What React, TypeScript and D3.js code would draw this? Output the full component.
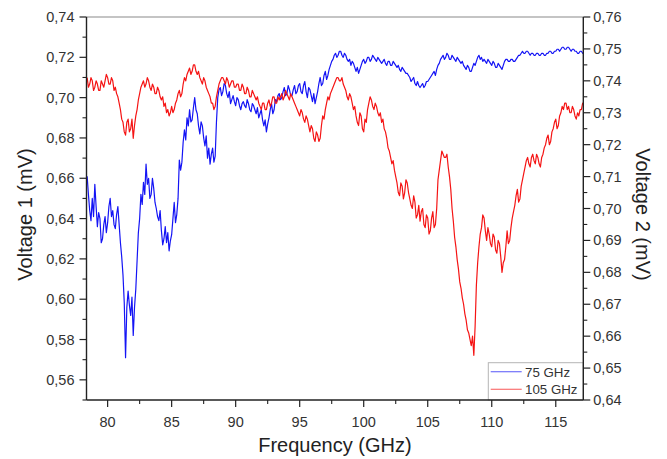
import React from "react";
import * as d3 from "d3";

// Frequency grid (GHz): first sample and spacing of the sweep
const FREQ_START = 78.4;
const FREQ_STEP = 0.1;

// Voltage 1 (mV), "75 GHz" trace, left axis — 10 samples per row (1 GHz)
const V1_75GHZ = [
  0.661, 0.652, 0.644, 0.639, 0.650, 0.641, 0.657, 0.646, 0.636, 0.643,
  0.640, 0.628, 0.630, 0.637, 0.641, 0.633, 0.638, 0.646, 0.650, 0.641,
  0.644, 0.637, 0.635, 0.642, 0.646, 0.637, 0.628, 0.621, 0.612, 0.598,
  0.571, 0.596, 0.604, 0.597, 0.592, 0.601, 0.582, 0.596, 0.605, 0.619,
  0.633, 0.640, 0.652, 0.647, 0.658, 0.652, 0.667, 0.657, 0.660, 0.650,
  0.652, 0.660, 0.655, 0.648, 0.645, 0.641, 0.639, 0.644, 0.634, 0.627,
  0.630, 0.636, 0.628, 0.633, 0.624, 0.629, 0.632, 0.640, 0.648, 0.638,
  0.642, 0.650, 0.669, 0.664, 0.668, 0.678, 0.684, 0.679, 0.690, 0.686,
  0.694, 0.688, 0.689, 0.695, 0.700, 0.694, 0.692, 0.686, 0.682, 0.688,
  0.686, 0.680, 0.676, 0.681, 0.670, 0.675, 0.667, 0.672, 0.675, 0.668,
  0.671, 0.688, 0.700, 0.704, 0.705, 0.701, 0.703, 0.707, 0.706, 0.702,
  0.700, 0.703, 0.697, 0.699, 0.701, 0.698, 0.696, 0.700, 0.699, 0.696,
  0.694, 0.697, 0.698, 0.696, 0.695, 0.699, 0.697, 0.694, 0.693, 0.697,
  0.696, 0.694, 0.692, 0.695, 0.690, 0.692, 0.694, 0.689, 0.686, 0.689,
  0.683, 0.687, 0.690, 0.694, 0.697, 0.692, 0.694, 0.699, 0.698, 0.701,
  0.702, 0.699, 0.700, 0.703, 0.705, 0.701, 0.702, 0.706, 0.704, 0.701,
  0.701, 0.704, 0.706, 0.702, 0.703, 0.706, 0.707, 0.703, 0.702, 0.706,
  0.708, 0.703, 0.700, 0.705, 0.704, 0.701, 0.698, 0.702, 0.697, 0.700,
  0.703, 0.707, 0.710, 0.706, 0.707, 0.711, 0.713, 0.709, 0.711, 0.714,
  0.716, 0.718, 0.719, 0.721, 0.722, 0.720, 0.721, 0.723, 0.723, 0.721,
  0.720, 0.722, 0.721, 0.719, 0.718, 0.719, 0.716, 0.718, 0.717, 0.715,
  0.713, 0.715, 0.712, 0.714, 0.716, 0.718, 0.719, 0.717, 0.718, 0.720,
  0.720, 0.718, 0.719, 0.721, 0.720, 0.719, 0.718, 0.720, 0.719, 0.718,
  0.717, 0.718, 0.719, 0.717, 0.716, 0.718, 0.718, 0.716, 0.716, 0.718,
  0.717, 0.716, 0.715, 0.716, 0.714, 0.713, 0.715, 0.714, 0.713, 0.712,
  0.712, 0.711, 0.710, 0.708, 0.709, 0.710, 0.707, 0.706, 0.708, 0.706,
  0.705, 0.706, 0.707, 0.705, 0.706, 0.708, 0.708, 0.709, 0.710, 0.711,
  0.712, 0.713, 0.711, 0.714, 0.716, 0.717, 0.719, 0.720, 0.721, 0.719,
  0.720, 0.722, 0.721, 0.719, 0.719, 0.721, 0.720, 0.719, 0.718, 0.720,
  0.719, 0.718, 0.717, 0.718, 0.716, 0.715, 0.714, 0.716, 0.715, 0.713,
  0.713, 0.715, 0.717, 0.716, 0.718, 0.720, 0.721, 0.719, 0.720, 0.718,
  0.719, 0.718, 0.717, 0.719, 0.718, 0.717, 0.716, 0.718, 0.717, 0.715,
  0.715, 0.717, 0.716, 0.715, 0.714, 0.716, 0.718, 0.719, 0.719, 0.718,
  0.718, 0.719, 0.719, 0.718, 0.718, 0.719, 0.720, 0.721, 0.721, 0.722,
  0.723, 0.722, 0.722, 0.723, 0.723, 0.722, 0.721, 0.722, 0.722, 0.721,
  0.721, 0.722, 0.722, 0.721, 0.721, 0.722, 0.722, 0.721, 0.721, 0.722,
  0.722, 0.723, 0.723, 0.722, 0.722, 0.723, 0.723, 0.724, 0.724, 0.723,
  0.724, 0.725, 0.725, 0.724, 0.724, 0.725, 0.725, 0.724, 0.723, 0.724,
  0.724, 0.723, 0.723, 0.722, 0.722, 0.723, 0.723, 0.722, 0.722, 0.723,
];

// Voltage 2 (mV), "105 GHz" trace, right axis
const V2_105GHZ = [
  0.741, 0.738, 0.739, 0.741, 0.740, 0.737, 0.738, 0.740, 0.739, 0.737,
  0.737, 0.740, 0.739, 0.738, 0.740, 0.742, 0.741, 0.739, 0.739, 0.741,
  0.740, 0.737, 0.738, 0.736, 0.735, 0.733, 0.731, 0.728, 0.727, 0.724,
  0.723, 0.727, 0.728, 0.724, 0.725, 0.728, 0.722, 0.726, 0.729, 0.731,
  0.734, 0.736, 0.738, 0.739, 0.740, 0.738, 0.739, 0.741, 0.740, 0.738,
  0.737, 0.739, 0.738, 0.736, 0.736, 0.738, 0.737, 0.735, 0.734, 0.735,
  0.732, 0.733, 0.730, 0.731, 0.729, 0.730, 0.732, 0.730, 0.731, 0.733,
  0.734, 0.736, 0.737, 0.735, 0.736, 0.739, 0.741, 0.740, 0.742, 0.743,
  0.744, 0.742, 0.743, 0.745, 0.745, 0.743, 0.742, 0.743, 0.741, 0.740,
  0.739, 0.741, 0.740, 0.738, 0.737, 0.736, 0.735, 0.733, 0.733, 0.731,
  0.732, 0.735, 0.737, 0.739, 0.740, 0.741, 0.741, 0.740, 0.739, 0.741,
  0.740, 0.738, 0.739, 0.740, 0.740, 0.738, 0.738, 0.739, 0.739, 0.737,
  0.737, 0.739, 0.738, 0.736, 0.736, 0.738, 0.737, 0.735, 0.735, 0.737,
  0.736, 0.735, 0.734, 0.735, 0.733, 0.732, 0.731, 0.733, 0.733, 0.731,
  0.731, 0.733, 0.734, 0.732, 0.733, 0.735, 0.735, 0.733, 0.733, 0.735,
  0.734, 0.735, 0.736, 0.734, 0.735, 0.737, 0.736, 0.735, 0.734, 0.736,
  0.735, 0.734, 0.733, 0.732, 0.731, 0.730, 0.729, 0.731, 0.730, 0.728,
  0.727, 0.729, 0.728, 0.726, 0.724, 0.726, 0.725, 0.722, 0.721, 0.724,
  0.723, 0.721, 0.722, 0.726, 0.729, 0.728, 0.731, 0.733, 0.735, 0.734,
  0.736, 0.737, 0.738, 0.739, 0.740, 0.741, 0.741, 0.740, 0.740, 0.741,
  0.739, 0.738, 0.737, 0.735, 0.734, 0.736, 0.735, 0.733, 0.731, 0.732,
  0.729, 0.727, 0.726, 0.730, 0.729, 0.725, 0.724, 0.728, 0.727, 0.731,
  0.733, 0.735, 0.734, 0.732, 0.731, 0.733, 0.732, 0.730, 0.729, 0.730,
  0.727, 0.728, 0.725, 0.724, 0.722, 0.719, 0.718, 0.716, 0.714, 0.715,
  0.712, 0.710, 0.708, 0.705, 0.704, 0.708, 0.707, 0.703, 0.705, 0.709,
  0.708, 0.705, 0.703, 0.701, 0.700, 0.704, 0.702, 0.697, 0.698, 0.701,
  0.696, 0.699, 0.700, 0.695, 0.694, 0.698, 0.697, 0.692, 0.693, 0.697,
  0.699, 0.694, 0.695, 0.700, 0.709, 0.712, 0.715, 0.718, 0.717, 0.716,
  0.716, 0.717, 0.713, 0.710, 0.706, 0.700, 0.696, 0.691, 0.688, 0.684,
  0.681, 0.677, 0.675, 0.672, 0.670, 0.667, 0.665, 0.662, 0.661, 0.659,
  0.657, 0.660, 0.654, 0.663, 0.676, 0.683, 0.688, 0.692, 0.694, 0.698,
  0.697, 0.693, 0.690, 0.694, 0.692, 0.689, 0.688, 0.692, 0.691, 0.687,
  0.686, 0.690, 0.689, 0.685, 0.680, 0.683, 0.684, 0.688, 0.693, 0.689,
  0.690, 0.694, 0.697, 0.699, 0.701, 0.704, 0.706, 0.702, 0.703, 0.707,
  0.709, 0.711, 0.713, 0.715, 0.716, 0.714, 0.713, 0.716, 0.717, 0.715,
  0.714, 0.717, 0.716, 0.714, 0.713, 0.716, 0.717, 0.719, 0.720, 0.722,
  0.723, 0.720, 0.721, 0.724, 0.725, 0.727, 0.728, 0.725, 0.726, 0.729,
  0.730, 0.732, 0.731, 0.733, 0.733, 0.731, 0.732, 0.730, 0.730, 0.732,
  0.731, 0.729, 0.728, 0.730, 0.729, 0.731, 0.731, 0.733, 0.733, 0.732,
];

const X_TICKS = [80, 85, 90, 95, 100, 105, 110, 115];
const X_MINOR = [82.5, 87.5, 92.5, 97.5, 102.5, 107.5, 112.5];
const Y1_TICKS = [0.56, 0.58, 0.6, 0.62, 0.64, 0.66, 0.68, 0.7, 0.72, 0.74];
const Y1_MINOR = [0.55, 0.57, 0.59, 0.61, 0.63, 0.65, 0.67, 0.69, 0.71, 0.73];
const Y2_TICKS = [0.64, 0.65, 0.66, 0.67, 0.68, 0.69, 0.7, 0.71, 0.72, 0.73, 0.74, 0.75, 0.76];
const Y2_MINOR = [0.645, 0.655, 0.665, 0.675, 0.685, 0.695, 0.705, 0.715, 0.725, 0.735, 0.745, 0.755];
const SERIES_NAMES = ["75 GHz", "105 GHz"];
const SERIES_COLORS = ["#1414f5", "#f51414"];

const FONT = "'Liberation Sans', Arial, Helvetica, sans-serif";

export default function App() {
  const W = 667;
  const H = 459;
  const L = 86.5;
  const R = 583.3;
  const T = 17;
  const B = 400;

  const x = d3.scaleLinear().domain([78.35, 117.15]).range([L, R]);
  const y1 = d3.scaleLinear().domain([0.55, 0.74]).range([B, T]);
  const y2 = d3.scaleLinear().domain([0.64, 0.76]).range([B, T]);

  const fmt = (v: number) => d3.format(".2f")(v).replace(".", ",");

  const pts1 = V1_75GHZ.map((v, i) => [FREQ_START + i * FREQ_STEP, v] as [number, number]);
  const pts2 = V2_105GHZ.map((v, i) => [FREQ_START + i * FREQ_STEP, v] as [number, number]);

  const line1 = d3.line<[number, number]>().x((d) => x(d[0])).y((d) => y1(d[1]));
  const line2 = d3.line<[number, number]>().x((d) => x(d[0])).y((d) => y2(d[1]));

  const axisColor = "#222";
  const labelColor = "#333";

  return (
    <svg
      width={W}
      height={H}
      style={{ position: "absolute", left: 0, top: 0, background: "#fff" }}
      fontFamily={FONT}
    >
      <rect x={0} y={0} width={W} height={H} fill="#fff" />
      <defs>
        <clipPath id="plotclip">
          <rect x={L} y={T} width={R - L} height={B - T} />
        </clipPath>
      </defs>

      {/* top frame */}
      <line x1={L} x2={R} y1={T} y2={T} stroke="#8a8a8a" strokeWidth={1.2} />

      {/* data */}
      <g clipPath="url(#plotclip)">
        <path d={line1(pts1) || ""} fill="none" stroke={SERIES_COLORS[0]} strokeWidth={1.2} strokeLinejoin="round" />
        <path d={line2(pts2) || ""} fill="none" stroke={SERIES_COLORS[1]} strokeWidth={1.2} strokeLinejoin="round" />
      </g>

      {/* legend */}
      <g>
        <rect x={488.3} y={362.7} width={R - 488.3} height={B - 362.7} fill="#fff" stroke="#b5b5b5" strokeWidth={1} />
        {SERIES_NAMES.map((name, i) => {
          const ly = 371.7 + i * 17.6;
          return (
            <g key={name}>
              <line x1={490.7} x2={521.7} y1={ly} y2={ly} stroke={SERIES_COLORS[i]} strokeOpacity={0.6} strokeWidth={1.2} />
              <text x={525} y={ly + 4.8} fontSize={13.3} fill={labelColor}>
                {name}
              </text>
            </g>
          );
        })}
      </g>

      {/* left axis */}
      <line x1={L} x2={L} y1={T} y2={B} stroke={axisColor} strokeWidth={1.4} />
      {Y1_TICKS.map((t) => (
        <g key={"y1" + t}>
          <line x1={L - 7} x2={L} y1={y1(t)} y2={y1(t)} stroke={axisColor} strokeWidth={1.2} />
          <text x={L - 12} y={y1(t) + 5} textAnchor="end" fontSize={14.5} fill={labelColor}>
            {fmt(t)}
          </text>
        </g>
      ))}
      {Y1_MINOR.map((t) => (
        <line key={"y1m" + t} x1={L - 4} x2={L} y1={y1(t)} y2={y1(t)} stroke={axisColor} strokeWidth={1.1} />
      ))}

      {/* right axis */}
      <line x1={R} x2={R} y1={T} y2={B} stroke={axisColor} strokeWidth={1.4} />
      {Y2_TICKS.map((t) => (
        <g key={"y2" + t}>
          <line x1={R} x2={R + 7} y1={y2(t)} y2={y2(t)} stroke={axisColor} strokeWidth={1.2} />
          <text x={R + 10} y={y2(t) + 5} textAnchor="start" fontSize={14.5} fill={labelColor}>
            {fmt(t)}
          </text>
        </g>
      ))}
      {Y2_MINOR.map((t) => (
        <line key={"y2m" + t} x1={R} x2={R + 4} y1={y2(t)} y2={y2(t)} stroke={axisColor} strokeWidth={1.1} />
      ))}

      {/* bottom axis */}
      <line x1={L} x2={R} y1={B} y2={B} stroke={axisColor} strokeWidth={1.4} />
      {X_TICKS.map((t) => (
        <g key={"x" + t}>
          <line x1={x(t)} x2={x(t)} y1={B} y2={B + 7} stroke={axisColor} strokeWidth={1.2} />
          <text x={x(t)} y={426.5} textAnchor="middle" fontSize={14.5} fill={labelColor}>
            {t}
          </text>
        </g>
      ))}
      {X_MINOR.map((t) => (
        <line key={"xm" + t} x1={x(t)} x2={x(t)} y1={B} y2={B + 4} stroke={axisColor} strokeWidth={1.1} />
      ))}

      {/* axis titles */}
      <text x={(L + R) / 2} y={452} textAnchor="middle" fontSize={20} fill="#222">
        Frequency (GHz)
      </text>
      <text
        transform={`translate(32, ${(T + B) / 2 + 6}) rotate(-90)`}
        textAnchor="middle"
        fontSize={20}
        fill="#222"
      >
        Voltage 1 (mV)
      </text>
      <text
        transform={`translate(636, ${(T + B) / 2 + 6}) rotate(90)`}
        textAnchor="middle"
        fontSize={20}
        fill="#222"
      >
        Voltage 2 (mV)
      </text>
    </svg>
  );
}
